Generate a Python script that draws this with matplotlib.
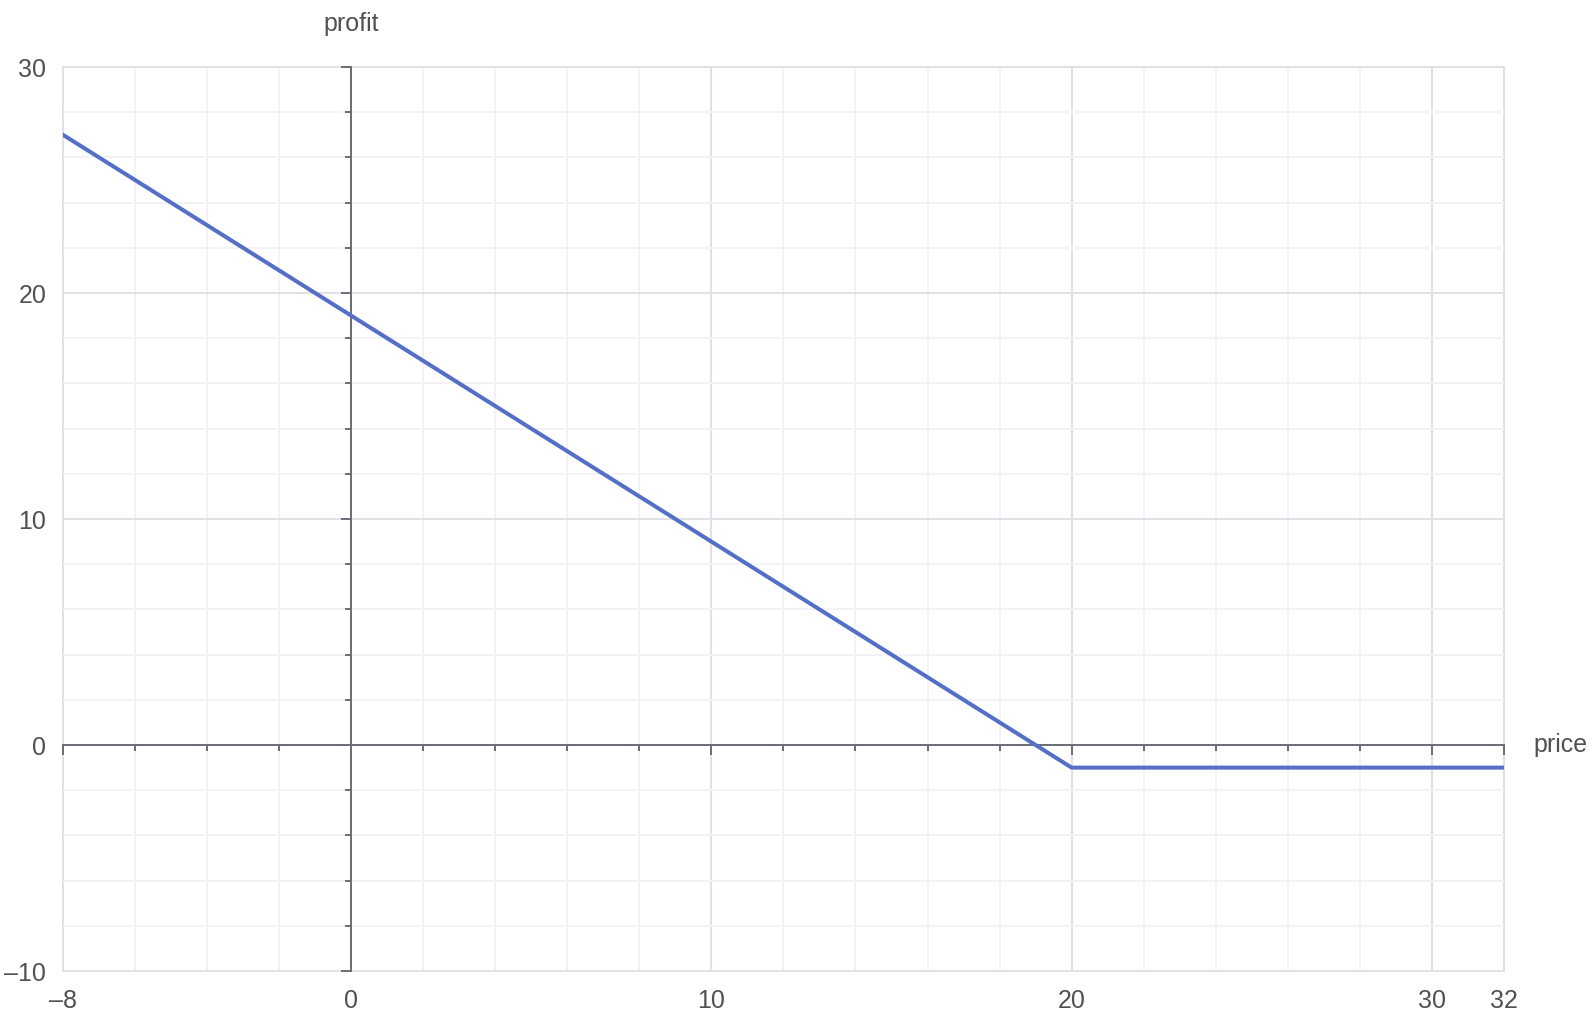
import matplotlib.pyplot as plt
from matplotlib.patches import Rectangle

# payoff of the position (price -> profit)
price = [-8, 20, 32]
profit = [27, -1, -1]

x_major = [-8, 0, 10, 20, 30, 32]
x_minor = list(range(-8, 33, 2))
y_major = [-10, 0, 10, 20, 30]
y_minor = list(range(-10, 31, 2))

LINE = "#5470c6"
AXIS = "#6e7079"
TEXT = "#505056"
GRID = "#e0e0e6"
MINOR_GRID = "#f2f2f7"

plt.rcParams['font.family'] = ['Liberation Sans', 'DejaVu Sans']

fig = plt.figure(figsize=(15.94, 10.34), dpi=100)
ax = fig.add_axes([0.0395, 0.0609, 0.904, 0.8743])

ax.plot(price, profit, color=LINE, linewidth=2.9, zorder=3)

ax.set_xlim(-8, 32)
ax.set_ylim(-10, 30)
ax.set_xticks(x_major)
ax.set_xticks(x_minor, minor=True)
ax.set_yticks(y_major)
ax.set_yticks(y_minor, minor=True)

# axis lines through zero
for side in ["left", "bottom"]:
    ax.spines[side].set_position(("data", 0))
    ax.spines[side].set_color(AXIS)
    ax.spines[side].set_linewidth(1.44)
for side in ["top", "right"]:
    ax.spines[side].set_visible(False)
ax.add_patch(Rectangle((0, 0), 1, 1, transform=ax.transAxes, fill=False,
                       edgecolor=GRID, linewidth=1.44, zorder=0.5, clip_on=False))

ax.tick_params(which="major", length=7.2, width=1.44, color=AXIS, direction="out",
               labelbottom=False, labelleft=False)
ax.tick_params(which="minor", length=4.3, width=1.44, color=AXIS, direction="out")

ax.set_axisbelow(True)
ax.grid(which="minor", color=MINOR_GRID, linewidth=1.44)
ax.grid(which="major", color=GRID, linewidth=1.44)

# tick labels on the outer frame
sx = ax.secondary_xaxis(0)
sx.set_xticks(x_major)
sx.set_xticklabels([f"{v}".replace("-", "\u2013") for v in x_major])
sx.tick_params(length=0, pad=13, labelsize=18, labelcolor=TEXT)
sx.spines["bottom"].set_visible(False)

sy = ax.secondary_yaxis(0)
sy.set_yticks(y_major)
sy.set_yticklabels([f"{v}".replace("-", "\u2013") for v in y_major])
sy.tick_params(length=0, pad=12, labelsize=18, labelcolor=TEXT)
sy.spines["left"].set_visible(False)

ax.annotate("profit", xy=(0, 1), xycoords=("data", "axes fraction"),
            xytext=(0, 31), textcoords="offset points",
            ha="center", va="center", fontsize=18, color=TEXT)
ax.annotate("price", xy=(1, 0), xycoords=("axes fraction", "data"),
            xytext=(21, 0), textcoords="offset points",
            ha="left", va="center", fontsize=18, color=TEXT)

fig.savefig("out.png", dpi=100)
